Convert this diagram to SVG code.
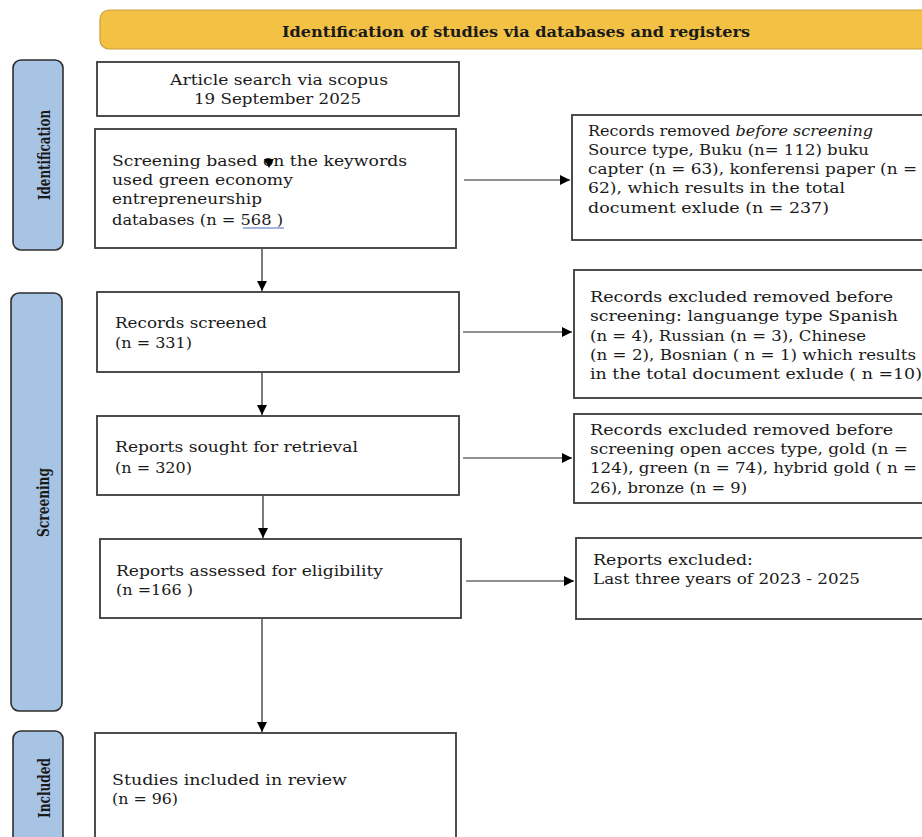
<svg xmlns="http://www.w3.org/2000/svg" width="922" height="837" viewBox="0 0 922 837">
<defs>
<marker id="ah" viewBox="0 0 10 10" refX="10" refY="5" markerWidth="10" markerHeight="10" markerUnits="userSpaceOnUse" orient="auto">
<path d="M0,0 L10,5 L0,10 z" fill="#000"/>
</marker>
<style>
.box{fill:#fff;stroke:#3a3a3a;stroke-width:1.8}
.side{fill:#a7c4e5;stroke:#2e2e2e;stroke-width:1.6}
.hdr{fill:#f3c244;stroke:#c79e3c;stroke-width:1.2}
.t{font-family:"DejaVu Serif","Liberation Serif",serif;font-size:15.5px;fill:#1a1a1a}
.b{font-family:"DejaVu Serif","Liberation Serif",serif;font-size:15px;font-weight:bold;fill:#1a1a1a}
.s{font-family:"DejaVu Serif","Liberation Serif",serif;font-size:17px;font-weight:bold;fill:#1a1a1a}
.conn{stroke:#222;stroke-width:1.2;fill:none;marker-end:url(#ah)}
</style>
</defs>
<rect width="922" height="837" fill="#fff"/>

<g id="header">
<rect class="hdr" x="100" y="10" width="840" height="39" rx="9"/>
<text class="b" x="282" y="37" textLength="468" lengthAdjust="spacingAndGlyphs">Identification of studies via databases and registers</text>
</g>

<g id="side-identification">
<rect class="side" x="13" y="60" width="50" height="190" rx="8"/>
<text class="s" transform="translate(50,200) rotate(-90)" textLength="90" lengthAdjust="spacingAndGlyphs">Identification</text>
</g>
<g id="side-screening">
<rect class="side" x="11" y="293" width="51" height="418" rx="8"/>
<text class="s" transform="translate(49,537) rotate(-90)" textLength="69" lengthAdjust="spacingAndGlyphs">Screening</text>
</g>
<g id="side-included">
<rect class="side" x="13" y="731" width="50" height="120" rx="8"/>
<text class="s" transform="translate(50,818) rotate(-90)" textLength="60" lengthAdjust="spacingAndGlyphs">Included</text>
</g>

<g id="article-search">
<rect class="box" x="97" y="62" width="362" height="54"/>
<text class="t" x="170" y="85" textLength="218" lengthAdjust="spacingAndGlyphs">Article search via scopus</text>
<text class="t" x="194" y="104" textLength="167" lengthAdjust="spacingAndGlyphs">19 September 2025</text>
</g>

<g id="keyword-screening">
<rect class="box" x="95" y="129" width="361" height="119"/>
<text class="t" x="112" y="166" textLength="295" lengthAdjust="spacingAndGlyphs">Screening based on the keywords</text>
<text class="t" x="112" y="185" textLength="181" lengthAdjust="spacingAndGlyphs">used green economy</text>
<text class="t" x="112" y="204" textLength="150" lengthAdjust="spacingAndGlyphs">entrepreneurship</text>
<text class="t" x="112" y="225" textLength="171" lengthAdjust="spacingAndGlyphs">databases (n = 568 )</text>
<line x1="243" y1="228" x2="284" y2="228" stroke="#4a6fc0" stroke-width="1"/>
</g>

<g id="records-removed">
<rect class="box" x="572" y="115" width="360" height="125"/>
<text class="t" x="588" y="136" textLength="285" lengthAdjust="spacingAndGlyphs">Records removed <tspan font-style="italic">before screening</tspan></text>
<text class="t" x="588" y="155" textLength="281" lengthAdjust="spacingAndGlyphs">Source type, Buku (n= 112) buku</text>
<text class="t" x="588" y="174" textLength="329" lengthAdjust="spacingAndGlyphs">capter (n = 63),  konferensi paper (n =</text>
<text class="t" x="588" y="193" textLength="257" lengthAdjust="spacingAndGlyphs">62), which results in the total</text>
<text class="t" x="588" y="213" textLength="241" lengthAdjust="spacingAndGlyphs">document exlude  (n = 237)</text>
</g>

<g id="records-screened">
<rect class="box" x="97" y="292" width="362" height="80"/>
<text class="t" x="115" y="328" textLength="152" lengthAdjust="spacingAndGlyphs">Records screened</text>
<text class="t" x="115" y="348" textLength="77" lengthAdjust="spacingAndGlyphs">(n = 331)</text>
</g>

<g id="excluded-language">
<rect class="box" x="574" y="270" width="360" height="128"/>
<text class="t" x="590" y="302" textLength="303" lengthAdjust="spacingAndGlyphs">Records excluded removed before</text>
<text class="t" x="590" y="321" textLength="308" lengthAdjust="spacingAndGlyphs">screening: languange type Spanish</text>
<text class="t" x="590" y="341" textLength="276" lengthAdjust="spacingAndGlyphs">(n = 4), Russian (n = 3), Chinese</text>
<text class="t" x="590" y="360" textLength="326" lengthAdjust="spacingAndGlyphs">(n = 2), Bosnian ( n = 1) which results</text>
<text class="t" x="590" y="379" textLength="332" lengthAdjust="spacingAndGlyphs">in the total document exlude  ( n =10)</text>
</g>

<g id="reports-sought">
<rect class="box" x="97" y="416" width="362" height="79"/>
<text class="t" x="115" y="452" textLength="243" lengthAdjust="spacingAndGlyphs">Reports sought for retrieval</text>
<text class="t" x="115" y="473" textLength="77" lengthAdjust="spacingAndGlyphs">(n = 320)</text>
</g>

<g id="excluded-open-access">
<rect class="box" x="574" y="414" width="360" height="89"/>
<text class="t" x="590" y="435" textLength="303" lengthAdjust="spacingAndGlyphs">Records excluded removed before</text>
<text class="t" x="590" y="454" textLength="318" lengthAdjust="spacingAndGlyphs">screening open acces type, gold (n =</text>
<text class="t" x="590" y="473" textLength="327" lengthAdjust="spacingAndGlyphs">124), green (n = 74), hybrid gold ( n =</text>
<text class="t" x="590" y="493" textLength="157" lengthAdjust="spacingAndGlyphs">26), bronze (n = 9)</text>
</g>

<g id="reports-assessed">
<rect class="box" x="100" y="539" width="361" height="79"/>
<text class="t" x="116" y="576" textLength="267" lengthAdjust="spacingAndGlyphs">Reports assessed for eligibility</text>
<text class="t" x="116" y="595" textLength="77" lengthAdjust="spacingAndGlyphs">(n =166 )</text>
</g>

<g id="reports-excluded">
<rect class="box" x="576" y="538" width="360" height="81"/>
<text class="t" x="593" y="565" textLength="160" lengthAdjust="spacingAndGlyphs">Reports excluded:</text>
<text class="t" x="593" y="584" textLength="267" lengthAdjust="spacingAndGlyphs">Last three years of 2023 - 2025</text>
</g>

<g id="studies-included">
<rect class="box" x="95" y="733" width="361" height="120"/>
<text class="t" x="112" y="785" textLength="235" lengthAdjust="spacingAndGlyphs">Studies included in review</text>
<text class="t" x="112" y="804" textLength="66" lengthAdjust="spacingAndGlyphs">(n = 96)</text>
</g>

<g id="connectors">
<path d="M264,159 L274,159 L269,168 z" fill="#000"/>
<line class="conn" x1="262" y1="249" x2="262" y2="291"/>
<line class="conn" x1="262" y1="373" x2="262" y2="415"/>
<line class="conn" x1="263" y1="496" x2="263" y2="538"/>
<line class="conn" x1="262" y1="619" x2="262" y2="732"/>
<line class="conn" x1="464" y1="180" x2="570" y2="180"/>
<line class="conn" x1="463" y1="332" x2="572" y2="332"/>
<line class="conn" x1="463" y1="458" x2="572" y2="458"/>
<line class="conn" x1="466" y1="581" x2="574" y2="581"/>
</g>
</svg>
